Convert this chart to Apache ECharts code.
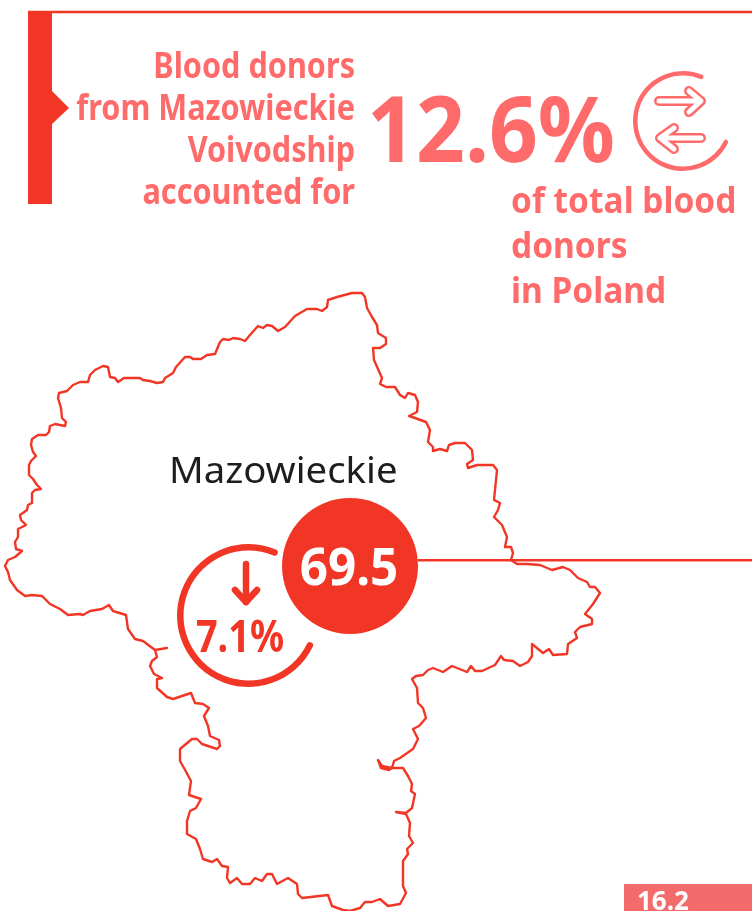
<!DOCTYPE html>
<html>
<head>
<meta charset="UTF-8">
<title>Blood donors - Mazowieckie</title>
<script src="https://cdn.jsdelivr.net/npm/echarts@6/dist/echarts.min.js"></script>
<style>
	html,body{margin:0;padding:0;background:#fff;}
	#main{width:752px;height:911px;}
</style>
</head>
<body>
<div id="main"></div>
<script type="text/javascript">
// figures
var regionNames = ['Mazowieckie'];
var regionValues = [69.5];
var changeValues = [7.1];
var shareOfTotal = [12.6];
var pageNumber = ['16.2'];
var introLines = ['Blood donors', 'from Mazowieckie', 'Voivodship', 'accounted for'];
var outroLines = ['of total blood', 'donors', 'in Poland'];

// voivodship border, traced clockwise, in page pixels
var borderPoints = [
	[5,566],[8,560],[15,557],[22,551],[16,549],[15,542],[18,537],[18,529],[26,525],[21,520],[20,515],[27,510],[28,505],[32,503],
	[32,493],[35,490],[41,489],[37,485],[33,479],[29,475],[29,465],[31,461],[36,456],[33,452],[31,445],[32,439],[38,435],[46,435],
	[49,432],[50,426],[55,424],[65,426],[66,422],[62,418],[61,408],[58,398],[59,393],[67,391],[73,385],[80,382],[88,382],[90,375],
	[95,370],[103,366],[108,367],[110,377],[115,378],[118,382],[124,378],[140,378],[143,380],[150,381],[157,383],[163,382],[165,378],
	[173,373],[176,367],[185,357],[190,357],[193,359],[201,359],[207,355],[215,354],[220,342],[223,339],[229,340],[233,338],[240,339],
	[245,341],[250,335],[258,326],[263,328],[267,325],[272,326],[278,331],[285,327],[295,316],[307,309],[317,309],[322,311],[327,307],
	[328,300],[337,297],[352,293],[362,293],[365,297],[367,308],[372,317],[377,325],[378,333],[386,338],[386,344],[380,348],[373,348],
	[374,360],[382,378],[380,384],[386,387],[395,387],[400,395],[405,398],[408,393],[415,395],[418,402],[417,412],[409,416],[415,418],
	[426,422],[430,430],[428,442],[433,447],[433,451],[440,449],[447,451],[449,445],[455,443],[465,443],[472,450],[473,460],[467,464],
	[468,468],[477,465],[493,465],[497,470],[494,500],[500,503],[498,510],[494,517],[502,525],[507,537],[505,547],[511,547],[513,553],
	[511,560],[517,564],[527,564],[540,565],[552,570],[563,567],[570,570],[578,578],[587,582],[590,587],[595,587],[600,593],[593,604],
	[585,614],[592,619],[592,624],[580,627],[575,632],[577,638],[568,644],[567,654],[553,655],[549,649],[543,653],[532,644],[532,656],
	[528,662],[520,666],[513,661],[504,660],[501,656],[495,665],[482,671],[475,671],[471,666],[467,672],[462,670],[452,666],[443,672],
	[433,668],[428,670],[423,675],[416,676],[412,679],[417,688],[418,703],[423,708],[426,718],[419,726],[413,729],[418,739],[413,749],
	[400,758],[394,761],[392,768],[382,766],[378,760],[381,768],[389,770],[392,768],[403,768],[408,776],[412,784],[411,791],[415,794],
	[412,808],[406,813],[396,812],[406,814],[410,823],[409,836],[413,843],[407,849],[408,854],[403,861],[403,886],[406,893],[400,904],
	[388,906],[380,899],[372,902],[365,902],[360,908],[350,911],[343,910],[332,906],[328,895],[302,898],[298,894],[297,884],[288,878],
	[277,884],[272,874],[267,874],[262,881],[255,878],[250,884],[242,884],[237,878],[230,883],[227,878],[228,867],[222,866],[217,859],
	[212,862],[203,859],[200,849],[196,839],[187,834],[187,821],[190,811],[196,808],[201,799],[189,795],[191,781],[184,768],[180,761],
	[180,749],[192,739],[197,739],[202,744],[217,749],[220,746],[219,740],[210,736],[208,726],[204,716],[209,708],[203,704],[195,703],
	[191,693],[182,696],[173,699],[167,697],[157,688],[157,679],[162,678],[154,674],[150,666],[152,661],[157,657],[155,650],[167,648],
	[155,650],[143,641],[135,639],[128,629],[126,615],[113,611],[109,605],[102,609],[90,611],[83,615],[80,614],[68,615],[60,609],
	[50,604],[42,596],[32,595],[25,596],[17,590],[10,580],[8,572],[5,566]
];

var RED = '#F23625';
var SALMON = '#FF6B6B';
var FONT = '"Noto Sans", sans-serif';

echarts.registerMap('mazowieckie', {
	type: 'FeatureCollection',
	features: [{
		type: 'Feature',
		properties: {name: regionNames[0]},
		geometry: {type: 'Polygon', coordinates: [borderPoints]}
	}]
});

function outlinedArrow(shaft, head) {
	var outer = {fill: null, stroke: SALMON, lineWidth: 10, lineCap: 'round', lineJoin: 'round'};
	var inner = {fill: null, stroke: '#fff', lineWidth: 5, lineCap: 'round', lineJoin: 'round'};
	return [
		{type: 'polyline', z: 5, shape: {points: shaft}, style: outer},
		{type: 'polyline', z: 5, shape: {points: head}, style: outer},
		{type: 'polyline', z: 5, shape: {points: head}, style: inner},
		{type: 'polyline', z: 5, shape: {points: shaft}, style: inner}
	];
}

// Noto Sans is wider than the picture's face, so the text gets squeezed with scaleX
function textLine(text, x, baseline, size, align, color, weight, scaleX) {
	return {
		type: 'text', z: 6, x: x, y: baseline + 0.215 * size,
		scaleX: scaleX || 1,
		style: {text: text, fill: color, font: weight + ' ' + size + 'px ' + FONT, textAlign: align, textVerticalAlign: 'bottom'}
	};
}

var graphics = [
	{type: 'rect', z: 1, shape: {x: 28, y: 10.7, width: 24, height: 193.3}, style: {fill: RED}},
	{type: 'polygon', z: 1, shape: {points: [[52,91],[69,108],[52,124]]}, style: {fill: RED}},
	{type: 'rect', z: 1, shape: {x: 52, y: 10.7, width: 700, height: 2.6}, style: {fill: RED}},
	{type: 'rect', z: 1, shape: {x: 418, y: 559, width: 334, height: 2.5}, style: {fill: RED}},
	{type: 'rect', z: 1, shape: {x: 624, y: 884, width: 128, height: 27}, style: {fill: '#F46B6B'}},
	{type: 'polyline', z: 5, shape: {points: [[246,564],[246,602]]}, style: {fill: null, stroke: RED, lineWidth: 6.5, lineCap: 'round'}},
	{type: 'polyline', z: 5, shape: {points: [[235,590],[246,602],[257,590]]}, style: {fill: null, stroke: RED, lineWidth: 6.5, lineCap: 'round', lineJoin: 'round'}}
];
graphics = graphics.concat(outlinedArrow([[659,101],[700,101]], [[689,91],[701,101],[689,112]]));
graphics = graphics.concat(outlinedArrow([[701,138],[661,138]], [[674,128],[660,138],[674,149]]));

var introBase = [78, 120, 162, 204];
introLines.forEach(function (t, i) {
	graphics.push(textLine(t, 355, introBase[i], 35, 'right', SALMON, 700, 0.875));
});
var outroBase = [213, 258, 303];
outroLines.forEach(function (t, i) {
	graphics.push(textLine(t, 511, outroBase[i], 36, 'left', SALMON, 700, 0.93));
});
graphics.push(textLine(shareOfTotal[0] + '%', 367, 162, 92, 'left', SALMON, 700, 0.93));
graphics.push(textLine(regionNames[0], 169, 483, 37, 'left', '#1d1d1b', 400, 1.035));
graphics.push(textLine(regionValues[0].toFixed(1), 349, 585, 52, 'center', '#fff', 700, 0.95));
graphics.push(textLine(changeValues[0] + '%', 240, 652, 44, 'center', RED, 700, 0.86));
graphics.push(textLine(pageNumber[0], 637, 910, 26, 'left', '#fff', 700));

function ringGauge(center, radius, width, color, value) {
	return {
		type: 'gauge',
		center: center,
		radius: radius,
		startAngle: -26,
		endAngle: -292.5,
		min: 0,
		max: 100,
		silent: true,
		axisLine: {roundCap: true, lineStyle: {width: width, color: [[1, color]]}},
		progress: {show: false},
		pointer: {show: false},
		anchor: {show: false},
		axisTick: {show: false},
		splitLine: {show: false},
		axisLabel: {show: false},
		title: {show: false},
		detail: {show: false},
		data: [{value: value}]
	};
}

var chart = echarts.init(document.getElementById('main'));
chart.setOption({
	animation: false,
	backgroundColor: '#fff',
	geo: {
		map: 'mazowieckie',
		projection: {project: function (p) { return p; }, unproject: function (p) { return p; }},
		boundingCoords: [[0, 0], [752, 911]],
		left: 0, top: 0, width: 752, height: 911,
		roam: false,
		silent: true,
		label: {show: false},
		itemStyle: {areaColor: '#fff', borderColor: RED, borderWidth: 2.4, borderJoin: 'round'}
	},
	series: [
		{
			type: 'map',
			geoIndex: 0,
			data: regionNames.map(function (n, i) { return {name: n, value: regionValues[i]}; })
		},
		{
			type: 'scatter',
			coordinateSystem: 'geo',
			silent: true,
			z: 4,
			symbol: 'circle',
			symbolSize: 136,
			itemStyle: {color: RED, opacity: 1},
			data: [[350, 566, regionValues[0]]]
		},
		ringGauge([248.5, 615.5], 71.5, 6.5, RED, changeValues[0]),
		ringGauge([683, 121], 50, 4.5, SALMON, shareOfTotal[0])
	],
	graphic: {elements: graphics}
});
</script>
</body>
</html>
